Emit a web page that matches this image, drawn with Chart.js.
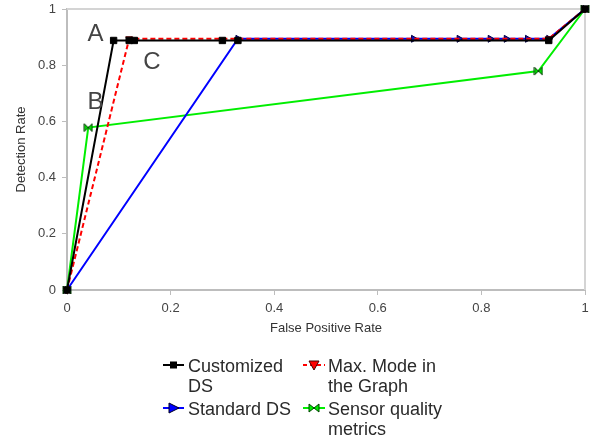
<!DOCTYPE html>
<html>
<head>
<meta charset="utf-8">
<script src="https://cdn.jsdelivr.net/npm/chart.js@4"></script>
<style>
    html, body { margin: 0; padding: 0; background: #fff; }
    #wrap { position: relative; width: 592px; height: 441px; }
    #legend {
        position: absolute; left: 163px; top: 356px; width: 300px;
        font-family: 'Liberation Sans', Arial, sans-serif; font-size: 18px; line-height: 20px; color: #2a2a2a;
    }
    .item { position: absolute; display: flex; align-items: flex-start; white-space: nowrap; }
    .item svg { flex: none; margin-top: 2px; margin-right: 3px; }
</style>
</head>
<body>
<div id="wrap">
    <canvas id="rocChart" width="592" height="441"></canvas>
    <div id="legend"></div>
</div>
<script>
// Reference values
const tickValues = [0, 0.2, 0.4, 0.6, 0.8, 1];
const tickLabels = ['0', '0.2', '0.4', '0.6', '0.8', '1'];

const customizedX = [0, 0.09, 0.12, 0.13, 0.30, 0.33, 0.93, 1];
const customizedY = [0, 0.888, 0.888, 0.888, 0.888, 0.888, 0.888, 1];

const maxModeX = [0, 0.12, 0.93, 1];
const maxModeY = [0, 0.894, 0.894, 1];

const standardX = [0, 0.33, 0.669, 0.757, 0.817, 0.848, 0.889, 0.93, 1];
const standardY = [0, 0.894, 0.894, 0.894, 0.894, 0.894, 0.894, 0.894, 1];

const sensorX = [0, 0.041, 0.91, 1];
const sensorY = [0, 0.578, 0.779, 1];

const noteLabels = ['A', 'B', 'C'];
const noteX = [0.055, 0.055, 0.164];
const noteY = [0.911, 0.669, 0.811];

const font = "'Liberation Sans', Arial, sans-serif";

function points(xs, ys) {
    return xs.map((x, i) => ({ x: x, y: ys[i] }));
}

// bowtie marker for the sensor series
function bowtie() {
    const c = document.createElement('canvas');
    c.width = 10; c.height = 10;
    const g = c.getContext('2d');
    g.beginPath();
    g.moveTo(1, 1); g.lineTo(5, 5); g.lineTo(1, 9); g.closePath();
    g.moveTo(9, 1); g.lineTo(5, 5); g.lineTo(9, 9); g.closePath();
    g.fillStyle = '#00e000';
    g.fill();
    g.strokeStyle = '#104010';
    g.lineWidth = 1;
    g.stroke();
    return c;
}

const framePlugin = {
    id: 'frame',
    beforeDatasetsDraw(chart) {
        const a = chart.chartArea, ctx = chart.ctx;
        ctx.save();
        ctx.strokeStyle = '#d4d4d4';
        ctx.lineWidth = 2;
        ctx.beginPath();
        ctx.moveTo(a.left, a.top); ctx.lineTo(a.right, a.top); ctx.lineTo(a.right, a.bottom);
        ctx.stroke();
        ctx.restore();
    }
};

const notesPlugin = {
    id: 'notes',
    afterDatasetsDraw(chart) {
        const ctx = chart.ctx, xs = chart.scales.x, ys = chart.scales.y;
        ctx.save();
        ctx.font = '24px ' + font;
        ctx.fillStyle = '#444';
        ctx.textAlign = 'center';
        ctx.textBaseline = 'middle';
        noteLabels.forEach((t, i) => {
            ctx.fillText(t, xs.getPixelForValue(noteX[i]), ys.getPixelForValue(noteY[i]));
        });
        ctx.restore();
    }
};

const axisCommon = {
    type: 'linear',
    min: 0,
    max: 1,
    afterBuildTicks: scale => { scale.ticks = tickValues.map(v => ({ value: v })); },
    border: { color: '#bdbdbd', width: 2 },
    grid: { drawOnChartArea: false, color: '#bdbdbd', tickLength: 5, tickWidth: 1 },
    ticks: {
        color: '#444',
        font: { family: font, size: 13 },
        padding: 6,
        callback: (v, i) => tickLabels[i]
    }
};

const ctx = document.getElementById('rocChart').getContext('2d');
new Chart(ctx, {
    type: 'scatter',
    data: {
        datasets: [{
            label: 'Customized DS',
            data: points(customizedX, customizedY),
            showLine: true,
            borderColor: '#000',
            backgroundColor: '#000',
            borderWidth: 2,
            pointStyle: 'rect',
            pointRadius: 4.5,
            pointBorderWidth: 1,
            pointBorderColor: '#000',
            clip: false,
            order: 1
        }, {
            label: 'Max. Mode in the Graph',
            data: points(maxModeX, maxModeY),
            showLine: true,
            borderColor: '#ff0000',
            backgroundColor: '#ff0000',
            borderWidth: 2,
            borderDash: [5, 3],
            pointStyle: 'triangle',
            rotation: 180,
            pointRadius: 4,
            pointBorderColor: '#400000',
            pointBorderWidth: 1,
            clip: false,
            order: 2
        }, {
            label: 'Standard DS',
            data: points(standardX, standardY),
            showLine: true,
            borderColor: '#0000ff',
            backgroundColor: '#1010c0',
            borderWidth: 2,
            pointStyle: 'triangle',
            rotation: 90,
            pointRadius: 4,
            pointBorderColor: '#000040',
            pointBorderWidth: 1,
            clip: false,
            order: 3
        }, {
            label: 'Sensor quality metrics',
            data: points(sensorX, sensorY),
            showLine: true,
            borderColor: '#00ee00',
            backgroundColor: '#00ee00',
            borderWidth: 2,
            pointStyle: bowtie(),
            clip: false,
            order: 4
        }]
    },
    options: {
        responsive: false,
        animation: false,
        layout: { padding: { top: 9, right: 7, bottom: 101, left: 0 } },
        plugins: { legend: { display: false }, tooltip: { enabled: false } },
        scales: {
            x: Object.assign({}, axisCommon, {
                afterFit: s => { s.height = 50; s.paddingLeft = 0; s.paddingRight = 0; },
                title: {
                    display: true, text: 'False Positive Rate', color: '#333',
                    font: { family: font, size: 13 }, padding: { top: 4, bottom: 4 }
                }
            }),
            y: Object.assign({}, axisCommon, {
                afterFit: s => { s.width = 67; s.paddingTop = 0; s.paddingBottom = 0; },
                title: {
                    display: true, text: 'Detection Rate', color: '#333',
                    font: { family: font, size: 13 }, padding: { top: 14, bottom: 4 }
                }
            })
        }
    },
    plugins: [framePlugin, notesPlugin]
});

// Legend
const legendItems = [
    { text: 'Customized<br>DS', left: 0, top: 0, icon: '<line x1="0" y1="7" x2="21" y2="7" stroke="#000" stroke-width="2"/><rect x="7" y="3.5" width="7" height="7" fill="#000"/>' },
    { text: 'Max. Mode in<br>the Graph', left: 140, top: 0, icon: '<line x1="0" y1="7" x2="22" y2="7" stroke="#f00" stroke-width="2" stroke-dasharray="4,3"/><polygon points="6,3 16,3 11,12" fill="#f00" stroke="#400" stroke-width="1"/>' },
    { text: 'Standard DS', left: 0, top: 43, icon: '<line x1="0" y1="7" x2="21" y2="7" stroke="#00f" stroke-width="2"/><polygon points="6,2 16,7 6,12" fill="#00f" stroke="#002" stroke-width="1"/>' },
    { text: 'Sensor quality<br>metrics', left: 140, top: 43, icon: '<line x1="0" y1="7" x2="22" y2="7" stroke="#0e0" stroke-width="2"/><polygon points="6,3 11,7 6,11" fill="#0e0" stroke="#040" stroke-width="1"/><polygon points="16,3 11,7 16,11" fill="#0e0" stroke="#040" stroke-width="1"/>' }
];
const legend = document.getElementById('legend');
legendItems.forEach(item => {
    const div = document.createElement('div');
    div.className = 'item';
    div.style.left = item.left + 'px';
    div.style.top = item.top + 'px';
    div.innerHTML = `<svg width="22" height="14">${item.icon}</svg><span>${item.text}</span>`;
    legend.appendChild(div);
});
</script>
</body>
</html>
